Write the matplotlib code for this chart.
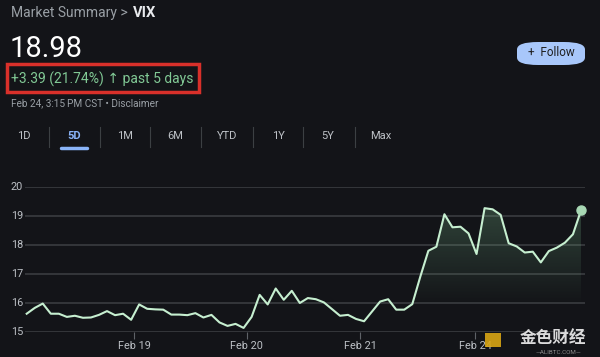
import matplotlib
matplotlib.use("Agg")
import matplotlib.pyplot as plt
import numpy as np
from matplotlib.patches import FancyBboxPatch, Rectangle, Polygon

# Data (5 trading days, 14 readings each)
vix = [
    15.62, 15.82, 15.97, 15.62, 15.62, 15.51, 15.55, 15.48, 15.49, 15.58, 15.71, 15.57, 15.62, 15.41,
    15.94, 15.79, 15.77, 15.76, 15.59, 15.59, 15.57, 15.64, 15.49, 15.58, 15.32, 15.20, 15.27, 15.13,
    15.51, 16.27, 15.94, 16.49, 16.10, 16.41, 15.99, 16.16, 16.12, 16.01, 15.78, 15.55, 15.58, 15.44,
    15.36, 15.70, 16.04, 16.12, 15.76, 15.76, 15.95, 16.90, 17.79, 17.93, 19.05, 18.60, 18.62, 18.39,
    17.68, 19.26, 19.22, 19.03, 18.05, 17.94, 17.73, 17.76, 17.39, 17.78, 17.90, 18.07, 18.36, 19.18,
]
day_labels = ["Feb 19", "Feb 20", "Feb 21", "Feb 24"]
day_ticks = [13.4, 27.4, 41.5, 55.8]
y_ticks = [15, 16, 17, 18, 19, 20]
range_tabs = ["1D", "5D", "1M", "6M", "YTD", "1Y", "5Y", "Max"]

BG = "#131418"
LINE = "#c6efd0"
GRID = "#3a3c40"
GREEN = "#81c995"

W, H = 600, 357
fig = plt.figure(figsize=(6, 3.57), dpi=100)
fig.patch.set_facecolor(BG)
plt.rcParams['font.family'] = ['Roboto', 'DejaVu Sans']


def fx(x):
    return x / W


def fy(y):
    return 1 - y / H


# Header
fig.text(fx(11), fy(13), "Market Summary >", color="#9aa0a6", fontsize=10, va="center")
fig.text(fx(133), fy(13), "VIX", color="#e8eaed", fontsize=10.5, va="center", fontweight="bold")
fig.text(fx(10), fy(49), "18.98", color="#ffffff", fontsize=21, va="center")
fig.text(fx(11), fy(79), "+3.39 (21.74%) \u2191 past 5 days", color=GREEN, fontsize=10, va="center")
fig.patches.append(Rectangle((fx(7), fy(92)), fx(192), (92 - 64) / H, transform=fig.transFigure,
                             fill=False, edgecolor="#d9302a", linewidth=2.5))
fig.text(fx(11), fy(103), "Feb 24, 3:15\u2009PM CST \u2022 Disclaimer", color="#9aa0a6", fontsize=7.2, va="center")

# Follow button
fig.patches.append(FancyBboxPatch((fx(517), fy(65)), fx(68), (65 - 42) / H, transform=fig.transFigure,
                                  boxstyle="round,pad=0,rounding_size=0.035", mutation_aspect=0.6,
                                  facecolor="#a8c7fa", edgecolor="none"))
fig.text(fx(551), fy(53), "+  Follow", color="#1f1f1f", fontsize=8.5, ha="center", va="center")

# Range tabs
tab_x = [24, 74, 125, 175, 227, 278, 328, 381]
for i, (lab, tx) in enumerate(zip(range_tabs, tab_x)):
    col = "#8ab4f8" if lab == "5D" else "#bdc1c6"
    fig.text(fx(tx), fy(136), lab, color=col, fontsize=8, ha="center", va="center",
             fontweight="bold" if lab == "5D" else "normal")
    if i < len(range_tabs) - 1:
        sx = (tx + tab_x[i + 1]) / 2
        fig.add_artist(plt.Line2D([fx(sx), fx(sx)], [fy(127), fy(147)], color="#3c4043", lw=0.8))
fig.add_artist(plt.Line2D([fx(61), fx(87)], [fy(148), fy(148)], color="#8ab4f8", lw=2.5,
                          solid_capstyle="round"))

# Chart
ax = fig.add_axes([fx(25), fy(331.7), fx(560), (331.7 - 186.7) / H])
ax.set_facecolor(BG)
x = np.arange(len(vix))
ax.set_xlim(-0.21, len(vix) - 1 + 0.5)
ax.set_ylim(15, 20)

for yt in y_ticks:
    ax.axhline(yt, color=GRID, lw=1.2, zorder=1)

# gradient fill under the line
verts = [(x[0], 15)] + list(zip(x, vix)) + [(x[-1], 15)]
poly = Polygon(verts, closed=True, facecolor="none", edgecolor="none")
ax.add_patch(poly)
grad = np.linspace(0, 1, 256).reshape(-1, 1)
rgba = np.zeros((256, 1, 4))
rgba[..., :3] = matplotlib.colors.to_rgb(GREEN)
rgba[..., 3] = np.clip((grad[:, 0] * 5 + 15 - 15.9) / (19.3 - 15.9), 0, 1)[:, None] * 0.26
im = ax.imshow(rgba, extent=[x[0], x[-1], 15, 20], origin="lower", aspect="auto", zorder=2)
im.set_clip_path(poly)

ax.plot(x, vix, color=LINE, lw=1.5, zorder=3, solid_joinstyle="round")
ax.plot(x[-1], vix[-1], "o", color="#a8d8b4", ms=6.5, zorder=4, clip_on=False)

for s in ax.spines.values():
    s.set_visible(False)
ax.set_yticks([])
ax.set_xticks(day_ticks)
ax.set_xticklabels(day_labels, color="#bdc1c6", fontsize=7.8)
ax.tick_params(axis="x", colors="#5f6368", length=5, width=0.8, pad=2, labelcolor="#bdc1c6")

for yt in y_ticks:
    fig.text(fx(17), fy(186.7 + (20 - yt) * 29), str(yt), color="#bdc1c6", fontsize=7.8,
             ha="center", va="center")

# watermark
fig.text(fx(553), fy(338), "金色财经", color="#f1f1f1", fontsize=12, ha="center", va="center",
         family=["Noto Sans CJK SC", "DejaVu Sans"], fontweight="bold", alpha=0.9)
fig.text(fx(558), fy(352), "\u2014ALIBTC.COM\u2014", color="#8a8a8a", fontsize=4.5, ha="center", va="center")
fig.patches.append(Rectangle((fx(485), fy(347)), fx(16), 14 / H, transform=fig.transFigure,
                             facecolor="#d9a514", edgecolor="none", alpha=0.9))

fig.savefig("out.png", dpi=100, facecolor=BG)
